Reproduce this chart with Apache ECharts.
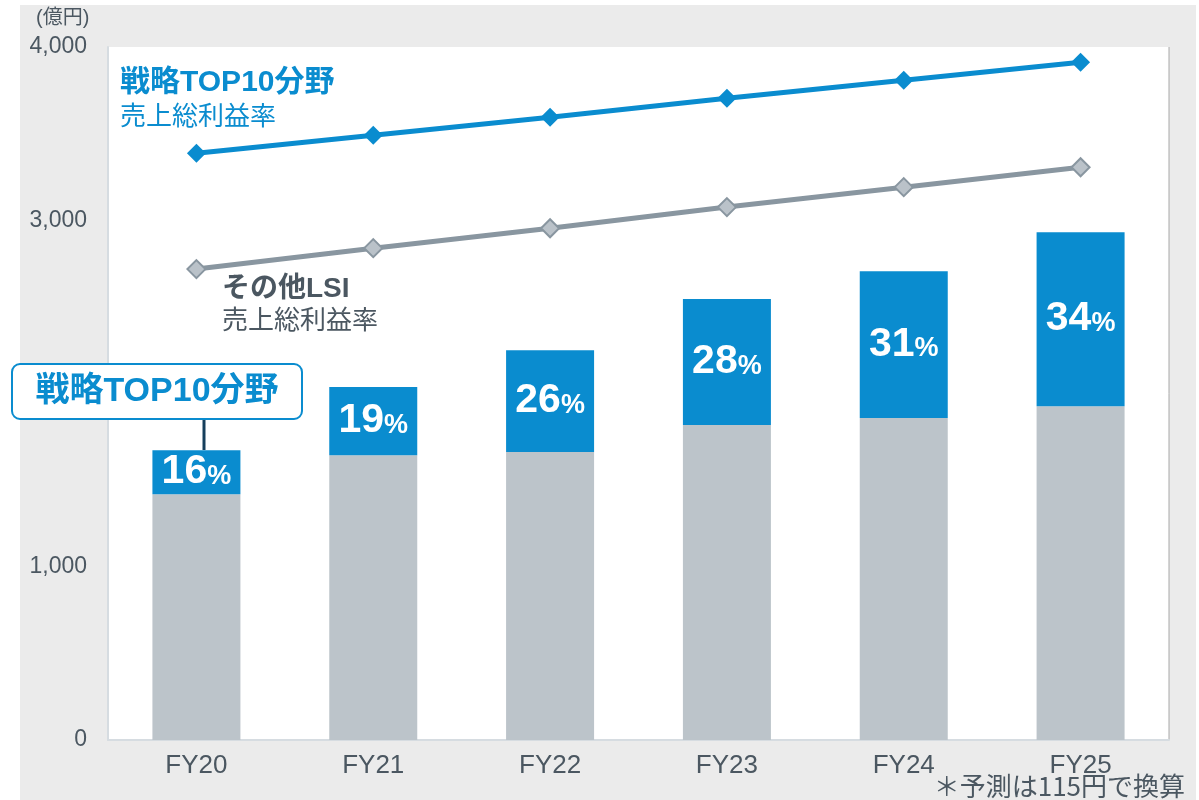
<!DOCTYPE html>
<html>
<head>
<meta charset="utf-8">
<script src="https://cdn.jsdelivr.net/npm/echarts@6/dist/echarts.min.js"></script>
<style>
  html, body { margin: 0; padding: 0; background: #fff; }
  #main { width: 1199px; height: 800px; }
</style>
</head>
<body>
<div id="main"></div>
<script>
const years = ['FY20', 'FY21', 'FY22', 'FY23', 'FY24', 'FY25']
// 億円
const otherSales = [1419, 1644, 1662, 1818, 1858, 1927]
const top10Sales = [254, 393, 588, 727, 848, 1004]
const top10Share = [16, 19, 26, 28, 31, 34]
// 売上総利益率（位置のみの線）
const top10Margin = [3387, 3491, 3595, 3704, 3808, 3912]
const otherMargin = [2718, 2839, 2954, 3076, 3191, 3306]

const LATIN = '"Liberation Sans", Arial, "Noto Sans CJK JP", sans-serif'
const CJK = '"Noto Sans CJK JP", sans-serif'
const BLUE = '#0a8ccf'
const GRAYTXT = '#4b5761'

const chart = echarts.init(document.getElementById('main'))

chart.setOption({
  backgroundColor: '#ebebeb',
  animation: false,
  grid: {
    left: 108, right: 30, top: 47, bottom: 60,
    show: true, backgroundColor: '#fff', borderWidth: 0
  },
  xAxis: {
    type: 'category',
    data: years,
    axisLine: { lineStyle: { color: '#d6dce1', width: 2 } },
    axisTick: { show: false },
    axisLabel: { color: GRAYTXT, fontSize: 26, fontFamily: LATIN, margin: 13 }
  },
  yAxis: {
    type: 'value',
    min: 0, max: 4000, interval: 1000,
    axisLine: { show: true, lineStyle: { color: '#d6dce1', width: 2 } },
    axisTick: { show: false },
    splitLine: { show: false },
    axisLabel: {
      color: GRAYTXT, fontSize: 23, fontFamily: LATIN, margin: 21,
      formatter: v => v.toLocaleString('en-US')
    }
  },
  series: [
    {
      name: 'その他',
      type: 'bar',
      stack: 'sales',
      barWidth: 88,
      data: otherSales,
      itemStyle: { color: '#bcc4ca' }
    },
    {
      name: '戦略TOP10分野',
      type: 'bar',
      stack: 'sales',
      barWidth: 88,
      data: top10Sales,
      itemStyle: { color: '#0a8ccf' },
      label: {
        show: true,
        position: 'inside',
        formatter: p => '{n|' + top10Share[p.dataIndex] + '}{p|%}',
        rich: {
          n: { color: '#fff', fontSize: 41, fontWeight: 'bold', fontFamily: LATIN },
          p: { color: '#fff', fontSize: 27, fontWeight: 'bold', fontFamily: LATIN, padding: [8, 0, 0, 0] }
        }
      }
    },
    {
      name: '戦略TOP10分野 売上総利益率',
      type: 'line',
      data: top10Margin,
      symbol: 'diamond',
      symbolSize: 19,
      lineStyle: { color: BLUE, width: 5 },
      itemStyle: { color: BLUE },
      z: 5
    },
    {
      name: 'その他LSI 売上総利益率',
      type: 'line',
      data: otherMargin,
      symbol: 'diamond',
      symbolSize: 18,
      lineStyle: { color: '#8996a0', width: 5 },
      itemStyle: { color: '#bac2c9', borderColor: '#8996a0', borderWidth: 2 },
      z: 5
    }
  ],
  graphic: [
    { type: 'rect', shape: { x: 0, y: 0, width: 20, height: 800 }, style: { fill: '#fff' }, silent: true },
    { type: 'rect', shape: { x: 0, y: 0, width: 1199, height: 5 }, style: { fill: '#fff' }, silent: true },
    { type: 'rect', shape: { x: 1196, y: 0, width: 3, height: 800 }, style: { fill: '#fff' }, silent: true },
    { type: 'line', shape: { x1: 1169, y1: 47, x2: 1169, y2: 740 }, style: { stroke: '#a8a8a8', lineWidth: 1 }, silent: true },
    {
      type: 'text', left: 36, top: 8,
      style: { text: '(億円)', fill: GRAYTXT, font: '20px ' + LATIN }
    },
    {
      type: 'text', left: 120, top: 68,
      style: { text: '戦略TOP10分野', fill: BLUE, font: 'bold 30px ' + LATIN }
    },
    {
      type: 'text', left: 120, top: 105,
      style: { text: '売上総利益率', fill: BLUE, font: '26px ' + LATIN }
    },
    {
      type: 'text', left: 222, top: 275,
      style: { text: 'その他LSI', fill: GRAYTXT, font: 'bold 28px ' + LATIN }
    },
    {
      type: 'text', left: 222, top: 309,
      style: { text: '売上総利益率', fill: GRAYTXT, font: '26px ' + LATIN }
    },
    {
      type: 'line', shape: { x1: 204, y1: 419, x2: 204, y2: 450 },
      style: { stroke: '#163f5c', lineWidth: 3 }, z: 10
    },
    {
      type: 'rect', shape: { x: 12, y: 364, width: 290, height: 55, r: 8 },
      style: { fill: '#fff', stroke: BLUE, lineWidth: 2 }, z: 10
    },
    {
      type: 'text', x: 157, y: 392, z: 11,
      style: { text: '戦略TOP10分野', fill: BLUE, font: 'bold 34px ' + LATIN, align: 'center', verticalAlign: 'middle' }
    },
    {
      type: 'text', right: 14, top: 773,
      style: { text: '＊予測は115円で換算', fill: GRAYTXT, font: '26px ' + CJK }
    }
  ]
})
</script>
</body>
</html>
